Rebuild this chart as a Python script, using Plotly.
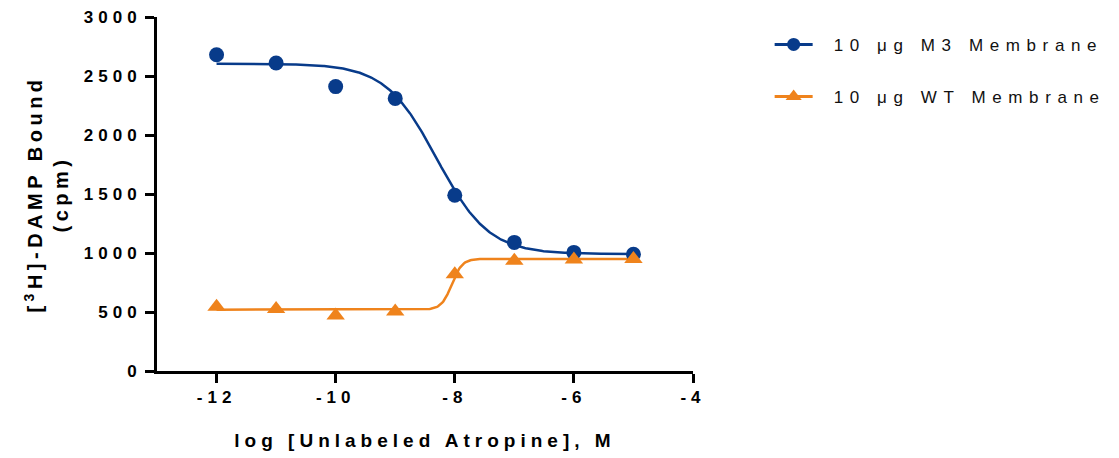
import numpy as np
import plotly.graph_objects as go

# ---- data ----
log_conc = [-12, -11, -10, -9, -8, -7, -6, -5]
m3_bound = [2680, 2610, 2410, 2310, 1490, 1090, 1005, 990]
wt_bound = [545, 525, 470, 505, 820, 935, 945, 950]

m3_name = "10 μg M3 Membrane"
wt_name = "10 μg WT Membrane"

# fitted sigmoid parameters
m3_fit = dict(bottom=990, top=2605, logx50=-8.3, hill=1.0)
wt_fit = dict(bottom=520, top=950, logx50=-8.05, hill=5.0)

x_ticks = [-12, -10, -8, -6, -4]
y_ticks = [0, 500, 1000, 1500, 2000, 2500, 3000]

BLUE = "#083B8A"
ORANGE = "#EF831C"
FONT = "Liberation Sans, Arial, sans-serif"


def sigmoid(x, p, decreasing):
    s = -1 if decreasing else 1
    return p["bottom"] + (p["top"] - p["bottom"]) / (1 + 10 ** (s * (p["logx50"] - x) * p["hill"]))


xf = np.linspace(min(log_conc), max(log_conc), 400)

fig = go.Figure()
# fitted curves
fig.add_trace(go.Scatter(x=xf, y=sigmoid(xf, m3_fit, True), mode="lines",
                         line=dict(color=BLUE, width=2.5), showlegend=False, hoverinfo="skip"))
fig.add_trace(go.Scatter(x=xf, y=sigmoid(xf, wt_fit, False), mode="lines",
                         line=dict(color=ORANGE, width=2.5), showlegend=False, hoverinfo="skip"))
# data points
fig.add_trace(go.Scatter(x=log_conc, y=m3_bound, mode="markers", showlegend=False,
                         marker=dict(symbol="circle", size=15, color=BLUE)))
fig.add_trace(go.Scatter(x=log_conc, y=wt_bound, mode="markers", showlegend=False,
                         marker=dict(symbol="triangle-up", size=16, color=ORANGE)))
# legend entries (line + marker symbol)
fig.add_trace(go.Scatter(x=[None], y=[None], mode="lines+markers", name=m3_name,
                         line=dict(color=BLUE, width=3),
                         marker=dict(symbol="circle", size=13, color=BLUE), legendgroup="a"))
fig.add_trace(go.Scatter(x=[None], y=[None], mode="lines+markers", name=wt_name,
                         line=dict(color=ORANGE, width=3),
                         marker=dict(symbol="triangle-up", size=14, color=ORANGE), legendgroup="b"))

fig.update_layout(
    width=1119, height=458,
    margin=dict(l=157, r=426, t=17, b=87, autoexpand=False),
    paper_bgcolor="white", plot_bgcolor="white",
    font=dict(family=FONT, color="black"),
    showlegend=True,
    legend=dict(x=1.143, y=0.972, xanchor="left", yanchor="top",
                font=dict(size=17, color="#111", family=FONT), tracegroupgap=27,
                itemwidth=38, bgcolor="rgba(0,0,0,0)"),
    xaxis=dict(range=[-13, -4], tickvals=x_ticks, ticktext=[str(v) for v in x_ticks],
               showline=True, linecolor="black", linewidth=3,
               ticks="outside", ticklen=9, tickwidth=3, tickcolor="black",
               showgrid=False, zeroline=False, automargin=False,
               tickfont=dict(size=17, family=FONT, weight="bold"),
               title=dict(text="log [Unlabeled Atropine], M", standoff=28,
                          font=dict(size=19, family=FONT, weight="bold"))),
    yaxis=dict(range=[0, 3000], tickvals=y_ticks,
               showline=True, linecolor="black", linewidth=3,
               ticks="outside", ticklen=9, tickwidth=3, tickcolor="black",
               showgrid=False, zeroline=False, automargin=False,
               tickfont=dict(size=17, family=FONT, weight="bold"),
               title=dict(text="[<sup>3</sup>H]-DAMP Bound<br>(cpm)", standoff=30,
                          font=dict(size=20, family=FONT, weight="bold"))),
)

post = """
document.body.style.margin = '0';
var st = document.createElement('style');
st.innerHTML = 'body{margin:0;} .legendtext{letter-spacing:6.6px; transform:translateX(16px);} '
 + '.legend .scrollbox, .legend g{clip-path:none !important;} '
 + '.xtick text,.ytick text{letter-spacing:5px;} .xtitle{letter-spacing:5px;} .ytitle{letter-spacing:4.5px;}';
document.head.appendChild(st);
"""
fig.write_html("out.html", post_script=post, config={"displayModeBar": False})
